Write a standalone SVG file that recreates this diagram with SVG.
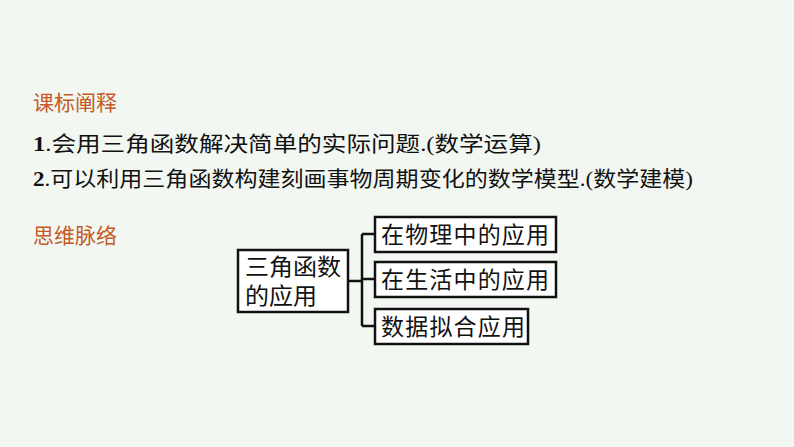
<svg xmlns="http://www.w3.org/2000/svg" width="794" height="447" viewBox="0 0 794 447">
<style>
.h{font-family:"Noto Sans CJK SC",sans-serif;font-size:21px;fill:#c55a26}
.t{font-family:"Liberation Serif","Noto Sans CJK SC",serif;font-size:21px;fill:#111}
.b{fill:#fff;stroke:#111;stroke-width:2.5}
.bt{font-family:"Noto Sans CJK SC",sans-serif;font-size:23px;fill:#111}
.c{fill:none;stroke:#111;stroke-width:2.5}
</style>
<rect width="794" height="447" fill="#f3f7f2"/>
<text class="h" x="33" y="110">课标阐释</text>
<text class="t" x="33" y="151" textLength="508" lengthAdjust="spacingAndGlyphs"><tspan font-weight="bold">1</tspan>.会用三角函数解决简单的实际问题.(数学运算)</text>
<text class="t" x="33" y="186" textLength="660" lengthAdjust="spacingAndGlyphs"><tspan font-weight="bold">2</tspan>.可以利用三角函数构建刻画事物周期变化的数学模型.(数学建模)</text>
<text class="h" x="33" y="243">思维脉络</text>
<g id="connectors">
<path class="c" d="M348 281H362M362 234V326M362 234H375M362 279H375M362 326H375"/>
</g>
<g id="root"><rect class="b" x="238" y="250" width="110" height="62"/><text class="bt" x="245" y="275" font-size="20" textLength="96" lengthAdjust="spacingAndGlyphs">三角函数</text><text class="bt" x="245" y="304" font-size="20" textLength="72" lengthAdjust="spacingAndGlyphs">的应用</text></g>
<g id="n1"><rect class="b" x="375" y="217" width="181" height="35"/><text class="bt" x="381" y="243" textLength="168">在物理中的应用</text></g>
<g id="n2"><rect class="b" x="375" y="262" width="181" height="35"/><text class="bt" x="381" y="288" textLength="168">在生活中的应用</text></g>
<g id="n3"><rect class="b" x="375" y="309" width="153" height="35"/><text class="bt" x="381" y="335" textLength="144">数据拟合应用</text></g>
</svg>
